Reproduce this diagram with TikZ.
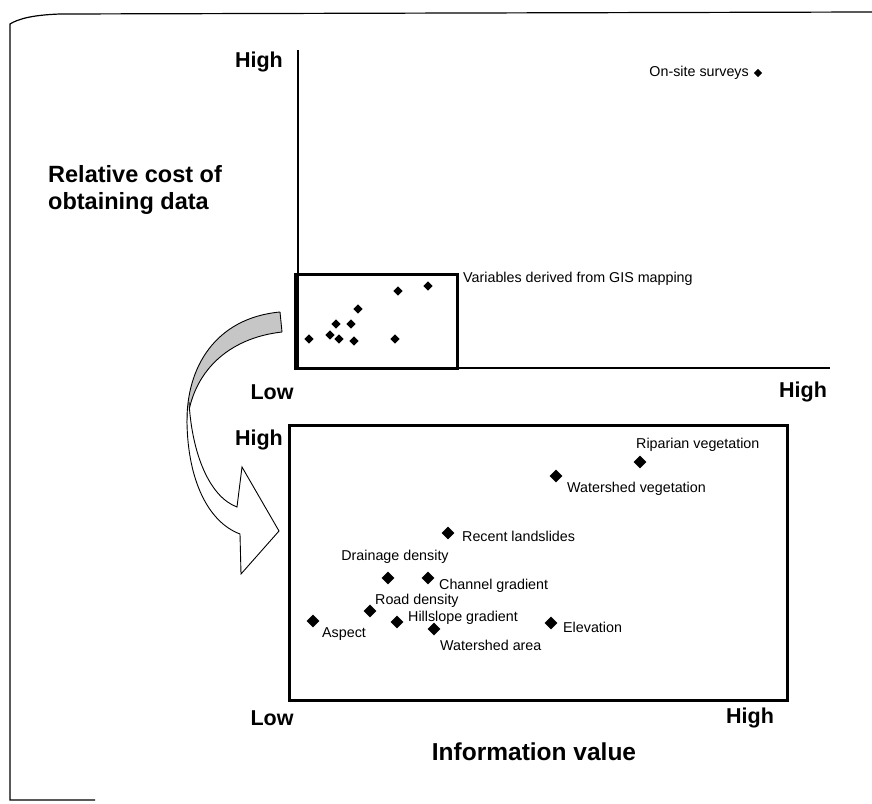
\documentclass[tikz,border=0pt]{standalone}
\usepackage{fontspec}
\setmainfont{Liberation Sans}
\usetikzlibrary{shapes.geometric}
\tikzset{
  dia/.style={diamond, fill=black, inner sep=0pt, minimum size=13pt},
  sdia/.style={diamond, fill=black, inner sep=0pt, minimum size=9.5pt},
  lbl/.style={inner sep=0pt, font=\fontsize{14.3}{17}\selectfont},
  big/.style={inner sep=0pt, font=\bfseries\fontsize{21.5}{25}\selectfont},
  bigger/.style={inner sep=0pt, font=\bfseries\fontsize{23.5}{27}\selectfont},
  frameline/.style={line width=1.2pt},
  axis/.style={line width=1.4pt},
  thickbox/.style={line width=3pt}
}
\begin{document}
\begin{tikzpicture}[x=1pt,y=-1pt]
\useasboundingbox (0,0) rectangle (872,803);
% page frame
\draw[frameline] (95,800) -- (10,800) -- (10,24) .. controls (18,19) and (32,15) .. (60,14) -- (872,12);

% upper axes
\coordinate (ytop) at (298,50);
\coordinate (o1) at (298,368);
\coordinate (xend) at (830,368);
\draw[axis] (ytop) -- (o1) -- (xend);
\node[big, anchor=east] (uhigh) at (283,62) {High};
\node[big] (ulow) at (272,392) {Low};
\node[big] (uhighx) at (803,392) {High};
\node[bigger, align=left, anchor=west] (ylabel) at (48,190) {Relative cost of\\obtaining data};

% on-site surveys
\node[sdia, minimum size=8.5pt] (onsite) at (758,73) {};
\node[lbl, anchor=east] (onsitet) at (749,73) {On-site surveys};

% small GIS box
\draw[thickbox] (295,274) rectangle (457,368);
\node[lbl, anchor=west] (gist) at (463,279) {Variables derived from GIS mapping};
\node[sdia] (s1) at (309,339) {};
\node[sdia] (s2) at (330,335) {};
\node[sdia] (s3) at (336,324) {};
\node[sdia] (s4) at (339,339) {};
\node[sdia] (s5) at (351,324) {};
\node[sdia] (s6) at (354,341) {};
\node[sdia] (s7) at (358,309) {};
\node[sdia] (s8) at (395,339) {};
\node[sdia] (s9) at (398,291) {};
\node[sdia] (s10) at (428,286) {};

% curved ribbon arrow
\fill[gray!45] (280,312) .. controls (215,318) and (186,368) .. (187,423)
  .. controls (192,372) and (228,338) .. (282,332) -- cycle;
\draw[line width=0.9pt] (282,332) .. controls (228,338) and (192,372) .. (187,423);
\draw[line width=0.9pt] (280,312) -- (282,332);
\filldraw[fill=white, line width=0.9pt, line join=miter]
  (189,402) .. controls (192,455) and (210,497) .. (237,507)
  -- (242,467) -- (279,531) -- (241,574) -- (240,534)
  .. controls (208,522) and (188,480) .. (187,423);
\draw[line width=0.9pt] (280,312) .. controls (215,318) and (186,368) .. (187,423);

% lower panel
\draw[thickbox] (289,425) rectangle (787,700);
\node[big, anchor=east] (lhigh) at (283,440) {High};
\node[big] (llow) at (272,718) {Low};
\node[big] (lhighx) at (750,718) {High};
\node[bigger, font=\bfseries\fontsize{24.5}{28}\selectfont] (xlabel) at (534,752) {Information value};

\node[dia] (rip) at (640,462) {};
\node[lbl, anchor=west] (ript) at (636,445) {Riparian vegetation};
\node[dia] (wv) at (556,476) {};
\node[lbl, anchor=west] (wvt) at (567,489) {Watershed vegetation};
\node[dia] (rl) at (448,533) {};
\node[lbl, anchor=west] (rlt) at (462,536) {Recent landslides};
\node[lbl] (ddt) at (395,557) {Drainage density};
\node[dia] (dd) at (388,578) {};
\node[dia] (cg) at (428,578) {};
\node[lbl, anchor=west] (cgt) at (439,586) {Channel gradient};
\node[dia] (rd) at (370,611) {};
\node[lbl, anchor=west] (rdt) at (375,601) {Road density};
\node[dia] (asp) at (313,621) {};
\node[lbl, anchor=west] (aspt) at (322,634) {Aspect};
\node[dia] (hg) at (397,622) {};
\node[lbl, anchor=west] (hgt) at (408,618) {Hillslope gradient};
\node[dia] (wa) at (434,629) {};
\node[lbl, anchor=west] (wat) at (440,645) {Watershed area};
\node[dia] (el) at (551,623) {};
\node[lbl, anchor=west] (elt) at (563,627) {Elevation};
\end{tikzpicture}
\end{document}
